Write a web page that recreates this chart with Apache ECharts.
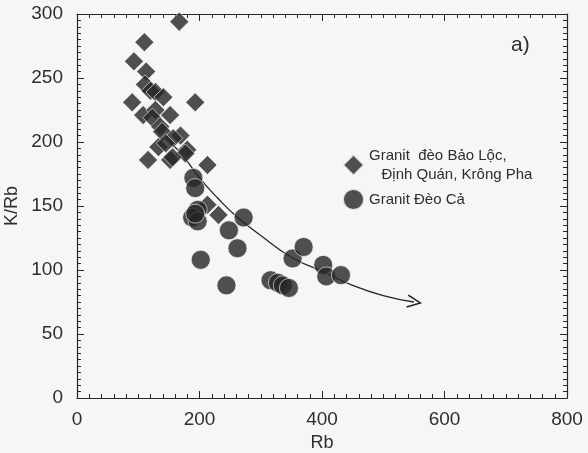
<!DOCTYPE html>
<html>
<head>
<meta charset="utf-8">
<script src="https://cdn.jsdelivr.net/npm/echarts@6/dist/echarts.min.js"></script>
<style>
  html, body { margin: 0; padding: 0; background: #f6f6f4; }
  #chart { width: 588px; height: 453px; }
</style>
</head>
<body>
<div id="chart"></div>
<script>
// Rb, K/Rb pairs
const baoLoc = [
  [167, 294], [110, 278], [93, 263], [113, 255], [111, 245], [120, 240],
  [90, 231], [193, 231], [128, 239], [141, 235], [108, 221], [128, 225],
  [123, 219], [152, 221], [136, 212], [139, 208], [169, 205], [157, 203],
  [133, 196], [180, 194], [177, 191], [116, 186], [152, 186], [156, 188],
  [213, 182], [145, 199], [213, 151], [231, 143]
];
const deoCa = [
  [190, 172], [193, 164], [197, 147], [188, 141], [197, 138], [193, 144],
  [272, 141], [248, 131], [262, 117], [202, 108], [244, 88],
  [316, 92], [328, 90], [336, 88], [346, 86], [352, 109], [370, 118],
  [402, 104], [407, 95], [431, 96]
];
// trend curve, arrow at the last point
const trend = [
  [152, 200], [175, 188], [200, 172], [230, 156], [260, 142], [300, 127],
  [350, 110], [400, 99], [450, 88], [500, 80], [550, 75]
];

const ink = '#262626';
const axisLine = { onZero: false, lineStyle: { color: ink, width: 1.2 } };
const tick = { inside: true, length: 7, lineStyle: { color: ink } };
const minor = { show: true, splitNumber: 10, length: 4, lineStyle: { color: ink } };
const font = { color: '#2e2e2e', fontFamily: 'Liberation Sans, Arial', fontSize: 19 };
const legendA = 'Granit  đèo Bảo Lộc,\n   Định Quán, Krông Pha';
const legendB = 'Granit Đèo Cả';

const chart = echarts.init(document.getElementById('chart'));
const trendData = trend.map((p, i) => i === trend.length - 1 ? {
  value: p,
  symbol: 'path://M0,0 L10,5 L0,10',
  symbolSize: [13, 12],
  symbolRotate: -8,
  itemStyle: { color: 'none', borderColor: ink, borderWidth: 1.6 }
} : p);

chart.setOption({
  animation: false,
  backgroundColor: '#f6f6f4',
  grid: { left: 77, right: 21, top: 14, bottom: 55, outerBoundsMode: 'none', containLabel: false },
  xAxis: [{
    type: 'value', min: 0, max: 800, interval: 200,
    axisLine, axisTick: tick, minorTick: minor,
    axisLabel: Object.assign({ margin: 12 }, font),
    splitLine: { show: false },
    name: 'Rb', nameLocation: 'middle', nameGap: 33,
    nameTextStyle: Object.assign({}, font, { fontSize: 18 })
  }, {
    type: 'value', min: 0, max: 800, interval: 200, position: 'top',
    axisLine, axisTick: tick, minorTick: minor,
    axisLabel: { show: false }, splitLine: { show: false }
  }],
  yAxis: [{
    type: 'value', min: 0, max: 300, interval: 50,
    axisLine, axisTick: tick, minorTick: minor,
    axisLabel: Object.assign({ margin: 14 }, font),
    splitLine: { show: false },
    name: 'K/Rb', nameLocation: 'middle', nameGap: 56, nameRotate: 90,
    nameMoveOverlap: false,
    nameTextStyle: Object.assign({}, font, { fontSize: 18 })
  }, {
    type: 'value', min: 0, max: 300, interval: 50, position: 'right',
    axisLine, axisTick: tick, minorTick: minor,
    axisLabel: { show: false }, splitLine: { show: false }
  }],
  legend: {
    orient: 'vertical', left: 337, top: 141, itemGap: 4,
    itemWidth: 21, itemHeight: 21,
    textStyle: { color: '#2e2e2e', fontFamily: 'Liberation Sans, Arial', fontSize: 15, lineHeight: 19 },
    data: [
      { name: legendA, icon: 'diamond' },
      { name: legendB, icon: 'circle' }
    ]
  },
  graphic: [{
    type: 'text', left: 511, top: 35,
    style: { text: 'a)', fill: '#2e2e2e', font: '21px Liberation Sans, Arial' }
  }],
  series: [{
    type: 'line', data: trendData, smooth: true, symbol: 'none', showSymbol: true,
    lineStyle: { color: ink, width: 1.3 }, z: 1, silent: true
  }, {
    name: legendA,
    type: 'scatter', data: baoLoc, symbol: 'diamond', symbolSize: 19,
    itemStyle: { color: ink, borderColor: '#f6f6f4', borderWidth: 0.8 }, z: 3
  }, {
    name: legendB,
    type: 'scatter', data: deoCa, symbol: 'circle', symbolSize: 19,
    itemStyle: { color: ink, borderColor: '#f6f6f4', borderWidth: 0.8 }, z: 3
  }]
});
</script>
</body>
</html>
